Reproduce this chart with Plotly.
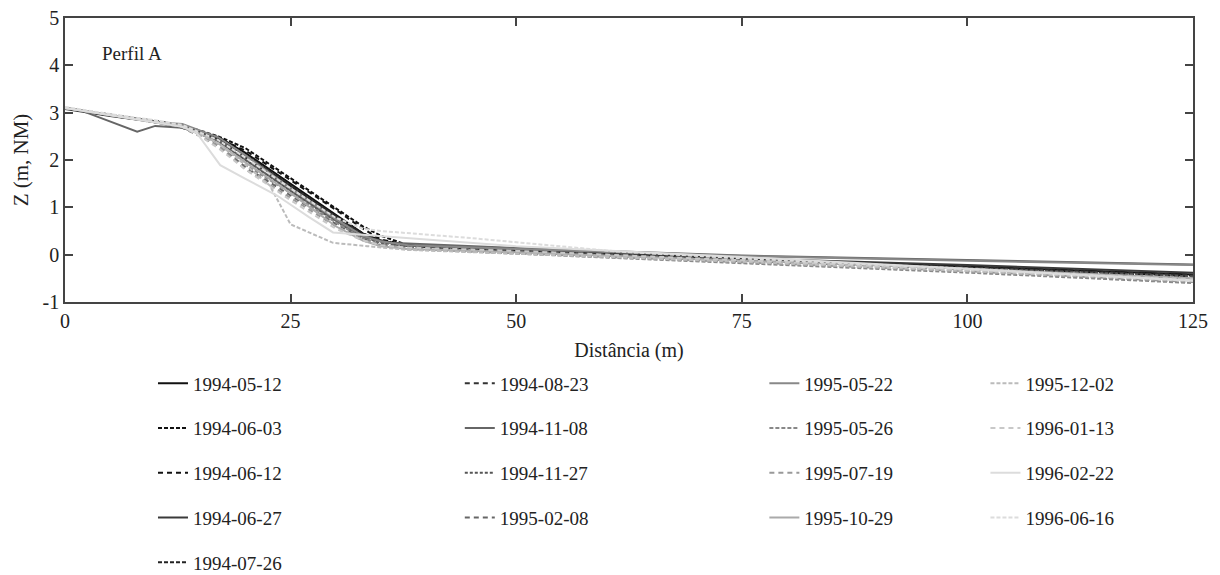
import plotly.graph_objects as go

# ---------------- data ----------------
dates = ["1994-05-12", "1994-06-03", "1994-06-12", "1994-06-27", "1994-07-26",
         "1994-08-23", "1994-11-08", "1994-11-27", "1995-02-08",
         "1995-05-22", "1995-05-26", "1995-07-19", "1995-10-29",
         "1995-12-02", "1996-01-13", "1996-02-22", "1996-06-16"]

x_common = [0, 5, 10, 13, 15, 17, 20, 25, 30, 33, 35, 38, 50, 75, 100, 125]

x_1994_11_08 = [0, 1.3, 8, 10, 13, 15, 17, 20, 25, 30, 33, 36, 50, 75, 100, 125]
x_1995_12_02 = [0, 5, 10, 13, 15, 17, 20, 22.7, 25, 29.7, 33.5, 38, 50, 75, 100, 125]
x_1996_02_22 = [0, 5, 10, 13, 14.6, 17.2, 20, 23.5, 27, 29.7, 33, 38, 50, 75, 100, 125]
x_1996_06_16 = [0, 5, 10, 13, 15, 17, 20, 25, 30, 33, 35, 45, 61, 75, 100, 125]

z_1994_05_12 = [3.10, 2.95, 2.82, 2.72, 2.60, 2.48, 2.15, 1.50, 0.85, 0.45, 0.30, 0.20, 0.10, -0.10, -0.25, -0.42]
z_1994_06_03 = [3.10, 2.95, 2.82, 2.73, 2.62, 2.50, 2.25, 1.62, 0.98, 0.60, 0.40, 0.20, 0.08, -0.12, -0.28, -0.45]
z_1994_06_12 = [3.10, 2.96, 2.83, 2.74, 2.60, 2.45, 2.20, 1.58, 0.95, 0.55, 0.32, 0.20, 0.06, -0.13, -0.30, -0.47]
z_1994_06_27 = [3.08, 2.93, 2.80, 2.70, 2.58, 2.45, 2.10, 1.45, 0.80, 0.42, 0.28, 0.20, 0.10, -0.08, -0.22, -0.38]
z_1994_07_26 = [3.10, 2.95, 2.82, 2.70, 2.55, 2.42, 2.10, 1.45, 0.82, 0.45, 0.30, 0.18, 0.08, -0.10, -0.26, -0.43]
z_1994_08_23 = [3.10, 2.94, 2.80, 2.72, 2.58, 2.40, 2.05, 1.40, 0.75, 0.40, 0.27, 0.18, 0.07, -0.10, -0.27, -0.44]
z_1994_11_08 = [3.08, 3.08, 2.60, 2.72, 2.68, 2.55, 2.40, 2.00, 1.35, 0.72, 0.38, 0.25, 0.14, -0.02, -0.12, -0.21]
z_1994_11_27 = [3.10, 2.95, 2.80, 2.70, 2.55, 2.40, 2.00, 1.35, 0.70, 0.38, 0.25, 0.18, 0.08, -0.10, -0.28, -0.46]
z_1995_02_08 = [3.10, 2.95, 2.80, 2.68, 2.50, 2.30, 1.85, 1.25, 0.65, 0.35, 0.22, 0.15, 0.05, -0.12, -0.30, -0.50]
z_1995_05_22 = [3.10, 2.95, 2.80, 2.76, 2.62, 2.48, 2.10, 1.40, 0.75, 0.40, 0.28, 0.20, 0.12, -0.03, -0.13, -0.22]
z_1995_05_26 = [3.10, 2.95, 2.80, 2.70, 2.55, 2.35, 1.90, 1.30, 0.68, 0.35, 0.20, 0.12, 0.02, -0.18, -0.38, -0.60]
z_1995_07_19 = [3.10, 2.95, 2.80, 2.70, 2.50, 2.30, 1.80, 1.20, 0.60, 0.30, 0.20, 0.12, 0.03, -0.15, -0.35, -0.58]
z_1995_10_29 = [3.10, 2.96, 2.82, 2.72, 2.55, 2.35, 1.95, 1.30, 0.60, 0.30, 0.18, 0.12, 0.05, -0.12, -0.30, -0.50]
z_1995_12_02 = [3.10, 2.96, 2.82, 2.72, 2.55, 2.35, 1.90, 1.46, 0.64, 0.25, 0.18, 0.10, 0.02, -0.15, -0.35, -0.55]
z_1996_01_13 = [3.10, 2.96, 2.82, 2.70, 2.50, 2.25, 1.80, 1.15, 0.55, 0.30, 0.20, 0.15, 0.08, -0.12, -0.32, -0.52]
z_1996_02_22 = [3.10, 2.95, 2.80, 2.70, 2.57, 1.89, 1.60, 1.25, 0.80, 0.47, 0.42, 0.35, 0.18, -0.05, -0.30, -0.55]
z_1996_06_16 = [3.12, 2.97, 2.84, 2.74, 2.58, 2.42, 2.05, 1.40, 0.78, 0.55, 0.50, 0.35, 0.07, -0.08, -0.30, -0.55]

xs = [x_common] * 6 + [x_1994_11_08] + [x_common] * 6 + [x_1995_12_02, x_common, x_1996_02_22, x_1996_06_16]
zs = [z_1994_05_12, z_1994_06_03, z_1994_06_12, z_1994_06_27, z_1994_07_26,
      z_1994_08_23, z_1994_11_08, z_1994_11_27, z_1995_02_08,
      z_1995_05_22, z_1995_05_26, z_1995_07_19, z_1995_10_29,
      z_1995_12_02, z_1996_01_13, z_1996_02_22, z_1996_06_16]

x_ticks = [0, 25, 50, 75, 100, 125]
y_ticks = [-1, 0, 1, 2, 3, 4, 5]
y_tick_labels = ["-1", "0", "1", "2", "3", "4", "5"]

# ---------------- styles ----------------
colors = ["#111111", "#111111", "#111111", "#3a3a3a", "#222222",
          "#333333", "#666666", "#555555", "#666666",
          "#888888", "#888888", "#999999", "#aaaaaa",
          "#bbbbbb", "#c8c8c8", "#dcdcdc", "#dcdcdc"]
dashes = ["solid", "4px,2px", "5px,4px", "solid", "4px,2px",
          "5px,4px", "solid", "3px,2px", "5px,4px",
          "solid", "4px,2px", "5px,4px", "solid",
          "4px,2px", "5px,4px", "solid", "4px,2px"]
legend_ids = ["legend"] * 5 + ["legend2"] * 4 + ["legend3"] * 4 + ["legend4"] * 4

FONT = "Liberation Serif, Times New Roman, serif"

fig = go.Figure()
for i, d in enumerate(dates):
    fig.add_trace(go.Scatter(
        x=xs[i], y=zs[i], mode="lines", name=d,
        line=dict(color=colors[i], width=2, dash=dashes[i]),
        legend=legend_ids[i], legendgroup=d,
    ))

axis_common = dict(
    showgrid=False, zeroline=False, showline=True, linecolor="#444",
    linewidth=1.5, mirror="ticks", ticks="inside", ticklen=8,
    tickcolor="#444", tickwidth=1.5,
    tickfont=dict(family=FONT, size=20, color="#222"),
)

fig.update_xaxes(range=[0, 125], tickvals=x_ticks,
                 title=dict(text="Distância (m)", font=dict(family=FONT, size=20, color="#222"),
                            standoff=12),
                 **axis_common)
fig.update_yaxes(range=[-1, 5], tickvals=y_ticks, ticktext=y_tick_labels,
                 title=dict(text="Z (m, NM)", font=dict(family=FONT, size=21, color="#222"),
                            standoff=8),
                 **axis_common)

fig.add_annotation(x=3.9, y=4.25, text="Perfil A", showarrow=False,
                   xanchor="left", yanchor="middle",
                   font=dict(family=FONT, size=19, color="#222"))

leg_common = dict(orientation="v", xanchor="left", yanchor="top",
                  font=dict(family=FONT, size=19, color="#222"),
                  tracegroupgap=17, itemwidth=30, bgcolor="rgba(0,0,0,0)",
                  traceorder="grouped")
fig.update_layout(
    width=1220, height=575,
    margin=dict(l=65, r=27, t=18, b=273, autoexpand=False),
    paper_bgcolor="white", plot_bgcolor="white",
    showlegend=True,
    legend=dict(x=0.078, y=-0.22, **leg_common),
    legend2=dict(x=0.35, y=-0.22, **leg_common),
    legend3=dict(x=0.62, y=-0.22, **leg_common),
    legend4=dict(x=0.816, y=-0.22, **leg_common),
)

fig.write_html("out.html")
